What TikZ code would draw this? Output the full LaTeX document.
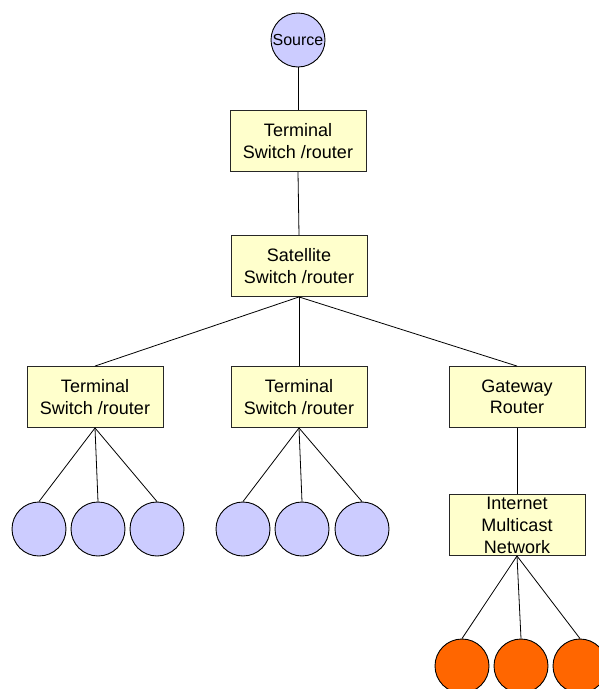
\documentclass[tikz,border=0pt]{standalone}
\usepackage{fontspec}
\setmainfont{Liberation Sans}
\definecolor{boxfill}{HTML}{FFFFCC}
\definecolor{hostfill}{HTML}{CCCCFF}
\definecolor{netfill}{HTML}{FF6600}
\begin{document}
\begin{tikzpicture}[x=1pt,y=-1pt,
  box/.style={draw=black!85, line width=0.9pt, fill=boxfill, minimum width=136pt,
    minimum height=61pt, inner sep=0pt, align=center,
    font=\fontsize{18}{21.5}\selectfont},
  host/.style={circle, draw=black, line width=0.9pt, fill=hostfill,
    minimum size=54pt, inner sep=0pt},
  remote/.style={circle, draw=black, line width=0.9pt, fill=netfill,
    minimum size=54pt, inner sep=0pt},
  link/.style={draw=black, line width=0.8pt}]
\useasboundingbox (0,0) rectangle (599,689);

% core chain
\node[host, font=\fontsize{16}{18}\selectfont] (src) at (298,40) {Source};
\node[box] (term) at (298,141) {Terminal\\Switch /router};
\node[box] (sat) at (299,266) {Satellite\\Switch /router};

% second level
\node[box] (tl) at (95,397) {Terminal\\Switch /router};
\node[box] (tm) at (299,397) {Terminal\\Switch /router};
\node[box] (gw) at (517,397) {Gateway\\Router};
\node[box, font=\fontsize{18}{22}\selectfont] (inet) at (517,525)
  {Internet\\Multicast\\Network};

% end hosts
\node[host] (l1) at (39,529) {};
\node[host] (l2) at (98,529) {};
\node[host] (l3) at (157,529) {};
\node[host] (m1) at (243,529) {};
\node[host] (m2) at (302,529) {};
\node[host] (m3) at (362,529) {};

% multicast receivers
\node[remote] (r1) at (462,666) {};
\node[remote] (r2) at (521,666) {};
\node[remote] (r3) at (580,666) {};

% connectors
\draw[link] (src.south) -- (term.north);
\draw[link] (term.south) -- (sat.north);
\draw[link] (sat.south) -- (tl.north);
\draw[link] (sat.south) -- (tm.north);
\draw[link] (sat.south) -- (gw.north);
\draw[link] (gw.south) -- (inet.north);
\foreach \c in {l1,l2,l3} \draw[link] (tl.south) -- (\c.north);
\foreach \c in {m1,m2,m3} \draw[link] (tm.south) -- (\c.north);
\foreach \c in {r1,r2,r3} \draw[link] (inet.south) -- (\c.north);
\end{tikzpicture}
\end{document}
